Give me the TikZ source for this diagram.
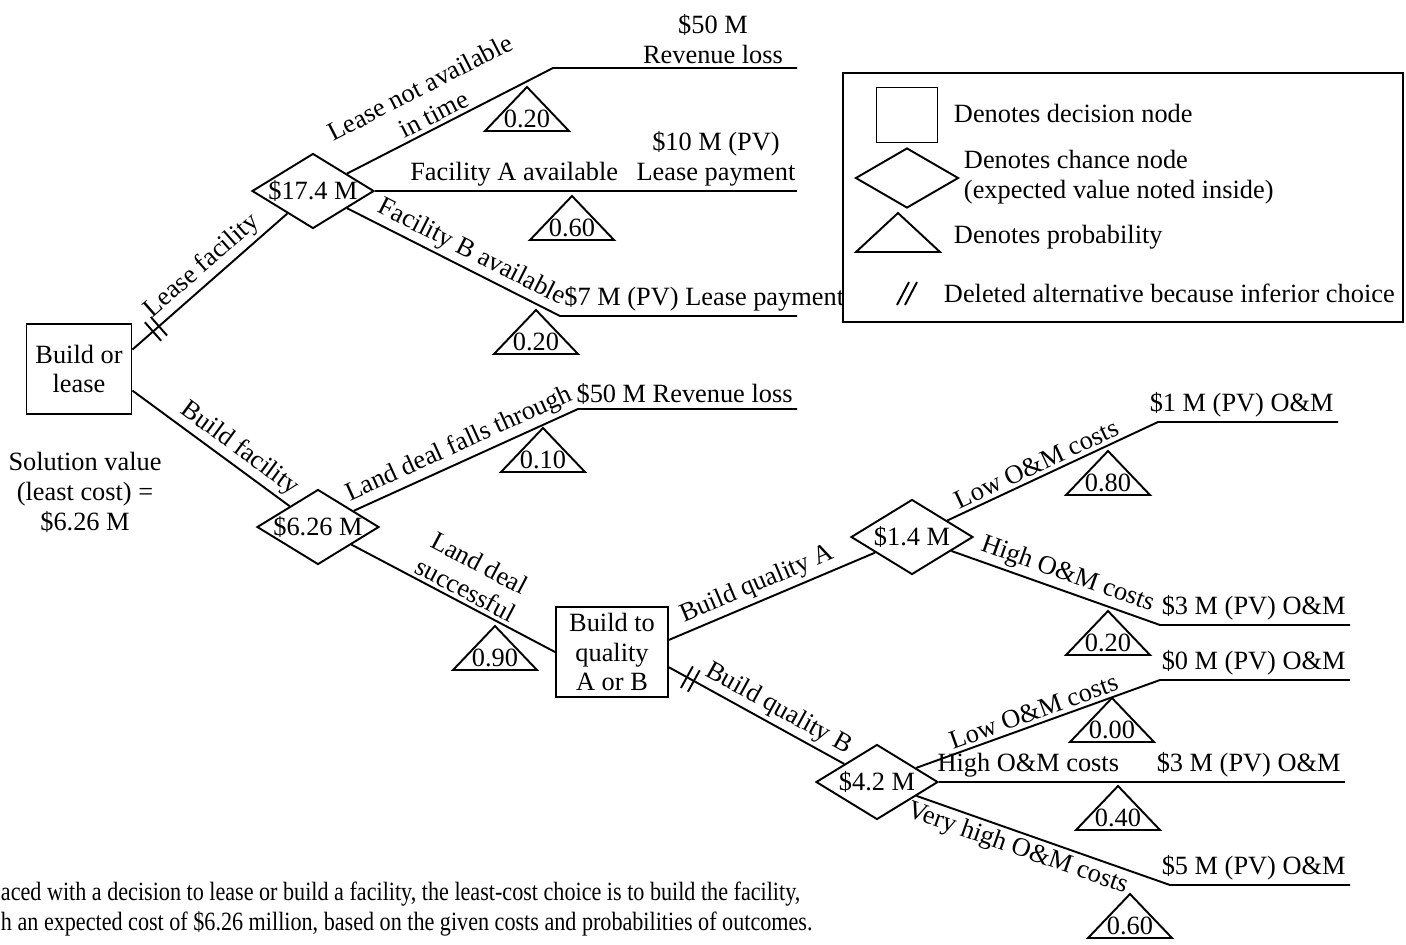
\documentclass[tikz,border=0pt]{standalone}
\usepackage{fontspec}
\setmainfont{Liberation Serif}
\newfontfamily\capfont[FakeStretch=0.84]{Liberation Serif}
\usetikzlibrary{shapes.geometric,positioning,decorations.markings}

\begin{document}
\begin{tikzpicture}[x=0.02cm,y=-0.02cm,line width=1.1pt,
	font=\fontsize{15}{17}\selectfont,
	decision/.style={draw,rectangle,align=center,inner sep=0pt},
	chance/.style={draw,diamond,inner xsep=-0.6cm,inner ysep=-2pt,minimum width=2.44cm,minimum height=1.5cm},
	branch/.style={sloped,above,inner sep=2pt},
	payoff/.style={align=center,inner sep=2pt},
	prob/.style={inner sep=0pt},
	legtext/.style={anchor=west,align=left,inner sep=0pt},
	inferior/.style={postaction={decorate,decoration={markings,mark=at position #1 with {
		\draw (-2pt,-7pt) -- (-2pt,7pt);
		\draw (2.5pt,-7pt) -- (2.5pt,7pt);}}}}]

	\useasboundingbox (0,0) rectangle (1406,944);

	% decision and chance nodes
	\node[decision,minimum width=2.1cm,minimum height=1.8cm] (bl) at (79,369) {Build or\\lease};
	\node[decision,minimum width=2.24cm,minimum height=1.8cm] (bq) at (612,652) {Build to\\quality\\A or B};
	\node[chance] (c1) at (313,191) {\$17.4 M};
	\node[chance] (c2) at (318,527) {\$6.26 M};
	\node[chance] (c3) at (912,537) {\$1.4 M};
	\node[chance] (c4) at (877,782) {\$4.2 M};

	\node[align=center] (sol) at (85,492) {Solution value\\(least cost) =\\\$6.26 M};

	% branch corners and ends
	\coordinate (k1) at (553,68);   \coordinate (t1) at (797,68);
	\coordinate (t2) at (797,191);
	\coordinate (k3) at (560,316);  \coordinate (t3) at (797,316);
	\coordinate (k4) at (578,409);  \coordinate (t4) at (797,409);
	\coordinate (k5) at (1158,422); \coordinate (t5) at (1338,422);
	\coordinate (k6) at (1160,625); \coordinate (t6) at (1350,625);
	\coordinate (k7) at (1160,680); \coordinate (t7) at (1350,680);
	\coordinate (t8) at (1345,782);
	\coordinate (k9) at (1170,885); \coordinate (t9) at (1350,885);

	% branches
	\draw[inferior=0.15] (bl.20) -- node[branch,pos=0.52] {Lease facility} (c1);
	\draw (bl.-22) -- node[branch,pos=0.62] {Build facility} (c2);
	\draw (c1) -- node[branch,pos=0.45,align=center] {Lease not available\\in time} (k1) -- (t1);
	\draw (c1.east) -- node[branch,pos=0.33] {Facility A available} (t2);
	\draw (c1) -- node[branch,pos=0.55] {Facility B available} (k3) -- (t3);
	\draw (c2) -- node[branch] {Land deal falls through} (k4) -- (t4);
	\draw (c2) -- node[branch,pos=0.53,align=center] {Land deal\\successful} (bq.west);
	\draw (bq.12) -- node[branch,pos=0.46] {Build quality A} (c3);
	\draw[inferior=0.12] (bq.-15) -- node[branch,pos=0.58] {Build quality B} (c4);
	\draw (c3) -- node[branch,pos=0.45] {Low O\&M costs} (k5) -- (t5);
	\draw (c3) -- node[branch,pos=0.53] {High O\&M costs} (k6) -- (t6);
	\draw (c4) -- node[branch] {Low O\&M costs} (k7) -- (t7);
	\draw (c4.east) -- node[branch,pos=0.22] {High O\&M costs} (t8);
	\draw (c4) -- node[branch,below,pos=0.42] {Very high O\&M costs} (k9) -- (t9);

	% outcomes
	\node[payoff,anchor=south] (v1) at (713,68) {\$50 M\\Revenue loss};
	\node[payoff,anchor=south] (v2) at (716,191) {\$10 M (PV)\\Lease payment};
	\node[payoff,above right=0pt and 0pt of k3] (v3) {\$7 M (PV) Lease payment};
	\node[payoff,above left=0pt and 0pt of t4] (v4) {\$50 M Revenue loss};
	\node[payoff,above left=0pt and 0pt of t5] (v5) {\$1 M (PV) O\&M};
	\node[payoff,above left=0pt and 0pt of t6] (v6) {\$3 M (PV) O\&M};
	\node[payoff,above left=0pt and 0pt of t7] (v7) {\$0 M (PV) O\&M};
	\node[payoff,above left=0pt and 0pt of t8] (v8) {\$3 M (PV) O\&M};
	\node[payoff,above left=0pt and 0pt of t9] (v9) {\$5 M (PV) O\&M};

	% probabilities
	\foreach \x/\y/\p [count=\i] in {527/131/0.20,572/240/0.60,536/354/0.20,543/472/0.10,495/670/0.90,
		1108/495/0.80,1108/655/0.20,1112/742/0.00,1118/830/0.40,1130/938/0.60}{
		\node[prob] (pr\i) at (\x,\y-12) {\p};
		\draw (\x-42,\y) -- (\x,\y-44) -- (\x+42,\y) -- cycle;
	}

	% legend
	\node[draw,minimum width=11.2cm,minimum height=4.98cm] (legend) at (1123,197.5) {};
	\node[decision,minimum width=1.22cm,minimum height=1.1cm] (lgd) at (907,115) {};
	\node[draw,diamond,minimum width=2.06cm,minimum height=1.2cm,inner sep=0pt] (lgc) at (907,178) {};
	\draw (856,252) -- (898,213) -- (940,252) -- cycle;
	\draw (897,305) -- (909,282) (905,305) -- (917,282);
	\node[legtext] (lt1) at (953,113) {Denotes decision node};
	\node[legtext] (lt2) at (963,177) {Denotes chance node\\(expected value noted inside)};
	\node[legtext] (lt3) at (953,237) {Denotes probability};
	\node[legtext] (lt4) at (943,293) {Deleted alternative because inferior choice};

	% caption
	\node[legtext,font=\capfont\fontsize{15}{17}\selectfont] (cap) at (0,909)
		{aced with a decision to lease or build a facility, the least-cost choice is to build the facility,\\
		h an expected cost of \$6.26 million, based on the given costs and probabilities of outcomes.};

\end{tikzpicture}
\end{document}
